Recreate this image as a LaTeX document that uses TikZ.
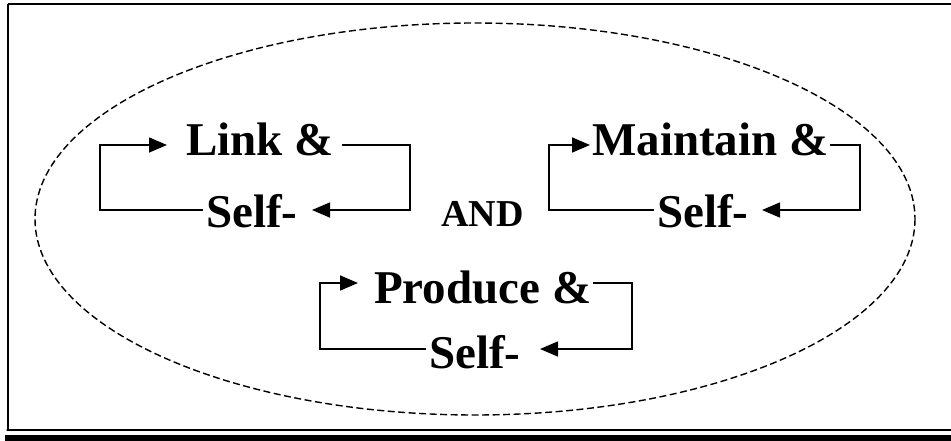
\documentclass[tikz,border=0pt]{standalone}
\usepackage{fontspec}
\setmainfont{Liberation Serif}
\usetikzlibrary{arrows.meta}
\begin{document}
\begin{tikzpicture}[x=1pt,y=-1pt,
  lbl/.style={anchor=base west,inner sep=0pt,font=\fontsize{47}{47}\selectfont\bfseries},
  andlbl/.style={anchor=base west,inner sep=0pt,font=\fontsize{38}{38}\selectfont\bfseries},
  conn/.style={line width=1.6pt,line join=miter},
  arr/.style={conn,-{Triangle[length=18pt,width=15pt]}},
  oval/.style={line width=1.4pt,dash pattern=on 7pt off 3.5pt}]
\useasboundingbox (0,0) rectangle (951,441);
% frame
\fill[black] (5,435) rectangle (951,441);
\draw[line width=2.5pt,gray!70] (6,430) -- (951,430);
\draw[line width=1.8pt] (8,4) -- (951,4);
\draw[line width=1.8pt] (8,4) -- (8,430) -- (951,430);
% oval
\draw[oval] (475,219) ellipse [x radius=440, y radius=196];
% loop 1
\node[lbl] (link) at (186,156) {Link \&};
\node[lbl] (self1) at (206,227) {Self-};
\coordinate (t1) at (167,145);
\coordinate (b1) at (312,210);
\draw[arr] ([xshift=-3pt]self1.west |- b1) -- (100,210) -- (100,145) -- (t1);
\draw[arr] ([xshift=8pt]link.east |- t1) -- (410,145) -- (410,210) -- (b1);
% loop 2
\node[lbl] (maint) at (592,156) {Maintain \&};
\node[lbl] (self2) at (657,227) {Self-};
\coordinate (t2) at (590,145);
\coordinate (b2) at (762,210);
\draw[arr] ([xshift=-3pt]self2.west |- b2) -- (549,210) -- (549,145) -- (t2);
\draw[arr] ([xshift=1pt]maint.east |- t2) -- (860,145) -- (860,210) -- (b2);
% loop 3
\node[lbl] (prod) at (374,303) {Produce \&};
\node[lbl] (self3) at (429,368) {Self-};
\coordinate (t3) at (358,283);
\coordinate (b3) at (540,349);
\draw[arr] ([xshift=-3pt]self3.west |- b3) -- (320,349) -- (320,283) -- (t3);
\draw[arr] ([xshift=1pt]prod.east |- t3) -- (632,283) -- (632,349) -- (b3);
% AND
\node[andlbl] (and) at (441,226) {AND};
\end{tikzpicture}
\end{document}
